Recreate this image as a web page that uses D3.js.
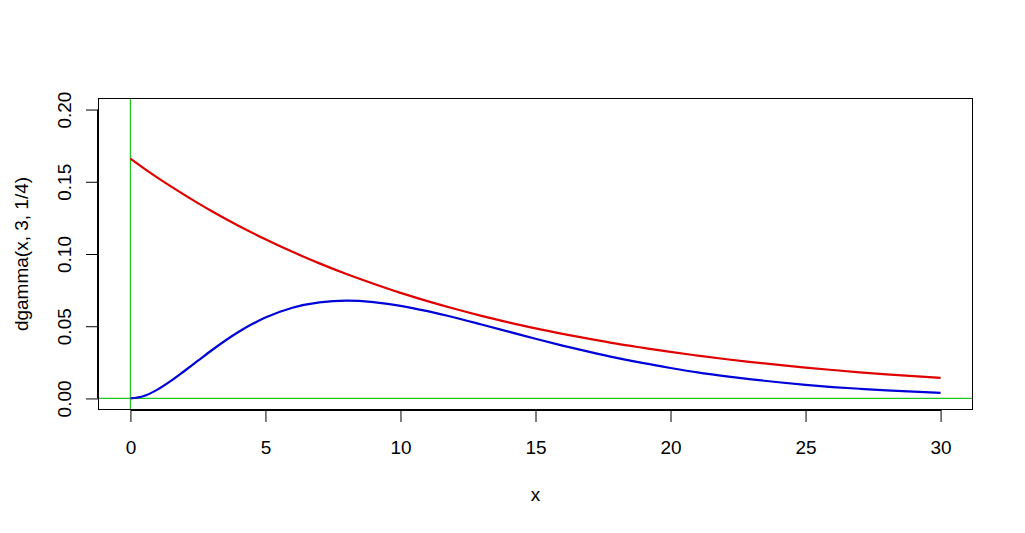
<!DOCTYPE html>
<html><head><meta charset="utf-8">
<script src="https://cdn.jsdelivr.net/npm/d3@7"></script>
<style>body{margin:0;background:#fff}svg{display:block}text{font-family:"Liberation Sans",Arial,sans-serif}</style>
</head><body>
<script>
const xValues = [0,0.5,1,1.5,2,2.5,3,4,5,6,7,8,9,10,11,12,13,14,15,16,17,18,19,20,21,22,23,24,25,26,27,28,29,30];
const redValues = [0.166,0.1593,0.1529,0.1468,0.1409,0.1352,0.1298,0.1196,0.1102,0.1015,0.0935,0.0861,0.0794,0.0731,0.0674,0.0621,0.0572,0.0527,0.0485,0.0447,0.0412,0.0379,0.0350,0.0322,0.0297,0.0273,0.0252,0.0232,0.0214,0.0197,0.0181,0.0167,0.0154,0.0142];
const blueValues = [0,0.0017,0.0061,0.0121,0.0190,0.0261,0.0332,0.0460,0.0560,0.0628,0.0665,0.0677,0.0667,0.0641,0.0604,0.0560,0.0512,0.0463,0.0413,0.0366,0.0322,0.0281,0.0244,0.0211,0.0181,0.0155,0.0132,0.0112,0.0094,0.0079,0.0067,0.0056,0.0047,0.0039];
const xTicks = [0,5,10,15,20,25,30];
const yTicks = [0,0.05,0.10,0.15,0.20];
const xLabel = "x";
const yLabel = "dgamma(x, 3, 1/4)";

const W=1025,H=533;
const L=98,R=973,T=98,B=410;
const FS=19;
const svg=d3.select("body").append("svg").attr("width",W).attr("height",H);
const x=d3.scaleLinear().domain([-1.2,31.2]).range([L,R]);
const y=d3.scaleLinear().domain([-0.008,0.208]).range([B,T]);

svg.append("clipPath").attr("id","c").append("rect").attr("x",L).attr("y",T).attr("width",R-L).attr("height",B-T);
const g=svg.append("g").attr("clip-path","url(#c)");
const line=d3.line().x((d,i)=>x(xValues[i])).y(d=>y(d)).curve(d3.curveMonotoneX);
g.append("line").attr("x1",x(0)).attr("x2",x(0)).attr("y1",T).attr("y2",B).attr("stroke","#22c422").attr("stroke-width",1.2);
g.append("line").attr("x1",L).attr("x2",R).attr("y1",y(0)).attr("y2",y(0)).attr("stroke","#22c422").attr("stroke-width",1.2);
g.append("path").datum(redValues).attr("d",line).attr("fill","none").attr("stroke","#e00000").attr("stroke-width",2.2);
g.append("path").datum(blueValues).attr("d",line).attr("fill","none").attr("stroke","#0000d8").attr("stroke-width",2.2);

svg.append("rect").attr("x",L+0.5).attr("y",T+0.5).attr("width",R-L-1).attr("height",B-T-1).attr("fill","none").attr("stroke","#000").attr("stroke-width",1);

const xa=svg.append("g").attr("transform",`translate(0,${B})`).call(d3.axisBottom(x).tickValues(xTicks).tickSize(12).tickFormat(d3.format("d")));
xa.select(".domain").attr("d",`M${x(0)+0.5},0.5H${x(30)+0.5}`);
xa.selectAll(".tick text").attr("font-size",FS).attr("fill","#000").attr("font-family","Liberation Sans, Arial, sans-serif").attr("y",44).attr("dy",0);
xa.selectAll(".tick line").attr("stroke","#000");

const ya=svg.append("g").attr("transform",`translate(${L},0)`).call(d3.axisLeft(y).tickValues(yTicks).tickSize(12).tickFormat(d3.format(".2f")));
ya.select(".domain").attr("d",`M-0.5,${y(0)}V${y(0.2)}`);
ya.selectAll(".tick line").attr("stroke","#000");
ya.selectAll(".tick text").attr("font-size",FS).attr("fill","#000").attr("font-family","Liberation Sans, Arial, sans-serif")
  .attr("text-anchor","middle").attr("dy",0).attr("x",0).attr("transform","translate(-34,0) rotate(-90)").attr("dominant-baseline","central");

svg.append("text").attr("x",(L+R)/2).attr("y",501).attr("text-anchor","middle").attr("font-size",FS).text(xLabel);
svg.append("text").attr("transform",`translate(28,${(T+B)/2}) rotate(-90)`).attr("text-anchor","middle").attr("font-size",FS).text(yLabel);
</script>
</body></html>
